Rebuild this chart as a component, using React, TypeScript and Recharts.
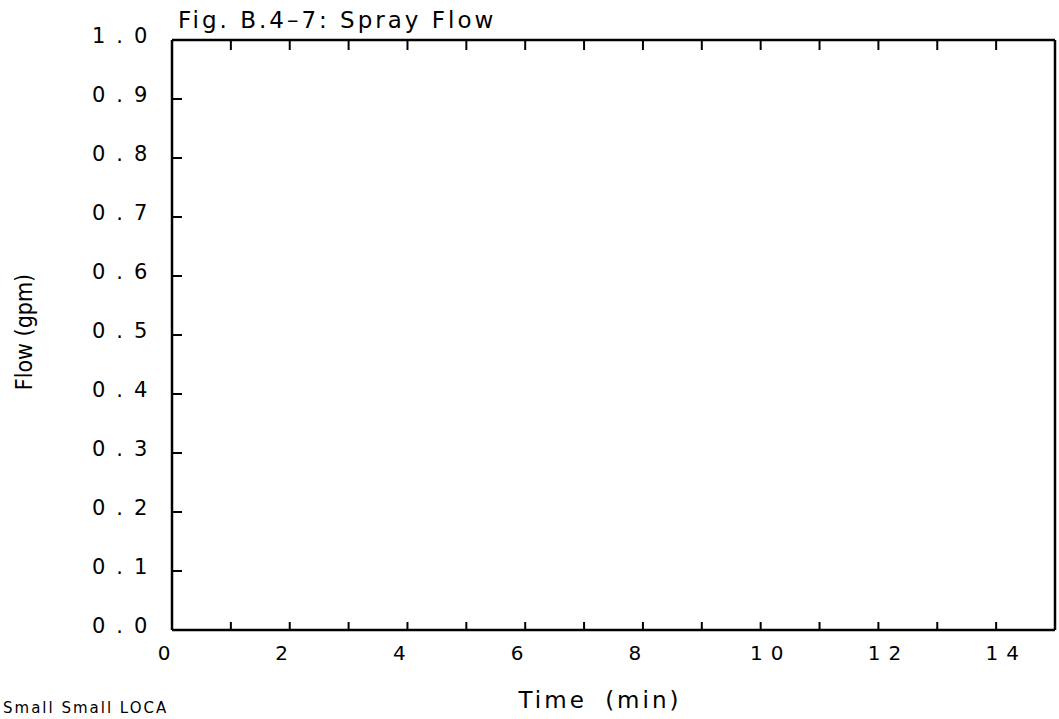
import { ComposedChart, Line, XAxis, YAxis } from "recharts";

// spray flow stays at zero over the whole run, so the trace sits on the time axis
const TIME = [0, 15];
const FLOW = [0, 0];

const TIME_TICKS = [0, 1, 2, 3, 4, 5, 6, 7, 8, 9, 10, 11, 12, 13, 14];
const TIME_LABELS = [0, 2, 4, 6, 8, 10, 12, 14];
const FLOW_TICKS = [0, 0.1, 0.2, 0.3, 0.4, 0.5, 0.6, 0.7, 0.8, 0.9, 1.0];
const FLOW_LABELS = ["0.0", "0.1", "0.2", "0.3", "0.4", "0.5", "0.6", "0.7", "0.8", "0.9", "1.0"];

const data = TIME.map((t, i) => ({ time: t, flow: FLOW[i] }));

const INK = "#000";
const FONT = "'DejaVu Sans', Verdana, sans-serif";
const AXIS = { stroke: INK, strokeWidth: 2.5 };

const BottomTick = (props: any) => {
  const { x, y, payload } = props;
  const v = payload.value;
  return (
    <g>
      {v > 0 && <line x1={x} x2={x} y1={y} y2={y - 8} stroke={INK} strokeWidth={2} />}
      {TIME_LABELS.includes(v) && (
        <text
          x={x + (v >= 10 ? 10 : -4)}
          y={y + 30}
          textAnchor="middle"
          fontFamily={FONT}
          fontSize={20}
          letterSpacing={8}
          fill={INK}
        >
          {v}
        </text>
      )}
    </g>
  );
};

const TopTick = (props: any) => {
  const { x, y, payload } = props;
  if (payload.value === 0) return <g />;
  return <line x1={x} x2={x} y1={y} y2={y + 10} stroke={INK} strokeWidth={2} />;
};

const LeftTick = (props: any) => {
  const { x, y, index } = props;
  return (
    <g>
      <line x1={x} x2={x + 10} y1={y} y2={y} stroke={INK} strokeWidth={2} />
      <text
        x={x - 80}
        y={y - 4}
        dominantBaseline="central"
        textAnchor="start"
        fontFamily={FONT}
        fontSize={21}
        letterSpacing={11}
        fill={INK}
      >
        {FLOW_LABELS[index]}
      </text>
    </g>
  );
};

const RightTick = (props: any) => {
  const { x, y, payload } = props;
  if (payload.value === 0 || payload.value === 1) return <g />;
  return <line x1={x} x2={x - 9} y1={y} y2={y} stroke={INK} strokeWidth={2} />;
};

export default function App() {
  return (
    <div
      style={{
        position: "absolute",
        left: 0,
        top: 0,
        width: 1059,
        height: 719,
        overflow: "hidden",
        background: "#fff",
      }}
    >
      <ComposedChart width={1059} height={719} data={data} margin={{ top: 39, right: 3, bottom: 49, left: 112 }}>
        <XAxis
          xAxisId="bottom"
          dataKey="time"
          type="number"
          domain={[0, 15]}
          ticks={TIME_TICKS}
          interval={0}
          height={40}
          axisLine={AXIS}
          tickLine={false}
          tickSize={0}
          tickMargin={0}
          tick={<BottomTick />}
        />
        <XAxis
          xAxisId="top"
          orientation="top"
          dataKey="time"
          type="number"
          domain={[0, 15]}
          ticks={TIME_TICKS}
          interval={0}
          height={1}
          axisLine={AXIS}
          tickLine={false}
          tickSize={0}
          tickMargin={0}
          tick={<TopTick />}
        />
        <YAxis
          yAxisId="left"
          type="number"
          domain={[0, 1]}
          ticks={FLOW_TICKS}
          interval={0}
          width={60}
          axisLine={AXIS}
          tickLine={false}
          tickSize={0}
          tickMargin={0}
          tick={<LeftTick />}
        />
        <YAxis
          yAxisId="right"
          orientation="right"
          type="number"
          domain={[0, 1]}
          ticks={FLOW_TICKS}
          interval={0}
          width={1}
          axisLine={AXIS}
          tickLine={false}
          tickSize={0}
          tickMargin={0}
          tick={<RightTick />}
        />
        <Line
          xAxisId="bottom"
          yAxisId="left"
          dataKey="flow"
          stroke={INK}
          strokeWidth={2}
          dot={false}
          isAnimationActive={false}
        />
      </ComposedChart>

      <svg width={1059} height={719} style={{ position: "absolute", left: 0, top: 0, pointerEvents: "none" }}>
        <text x={178} y={28} fontFamily={FONT} fontSize={23} letterSpacing={3} fill={INK}>
          Fig. B.4–7: Spray Flow
        </text>
        <text
          x={24}
          y={332}
          transform="rotate(-90, 24, 332)"
          textAnchor="middle"
          dominantBaseline="central"
          fontFamily="'DejaVu Sans Condensed', 'Liberation Sans Narrow', sans-serif"
          fontSize={23}
          fill={INK}
        >
          Flow (gpm)
        </text>
        <text
          x={600}
          y={708}
          textAnchor="middle"
          fontFamily={FONT}
          fontSize={23}
          letterSpacing={3}
          wordSpacing={8}
          fill={INK}
        >
          Time (min)
        </text>
        <text x={3} y={713} fontFamily={FONT} fontSize={15} letterSpacing={2} fill={INK}>
          Small Small LOCA
        </text>
      </svg>
    </div>
  );
}
